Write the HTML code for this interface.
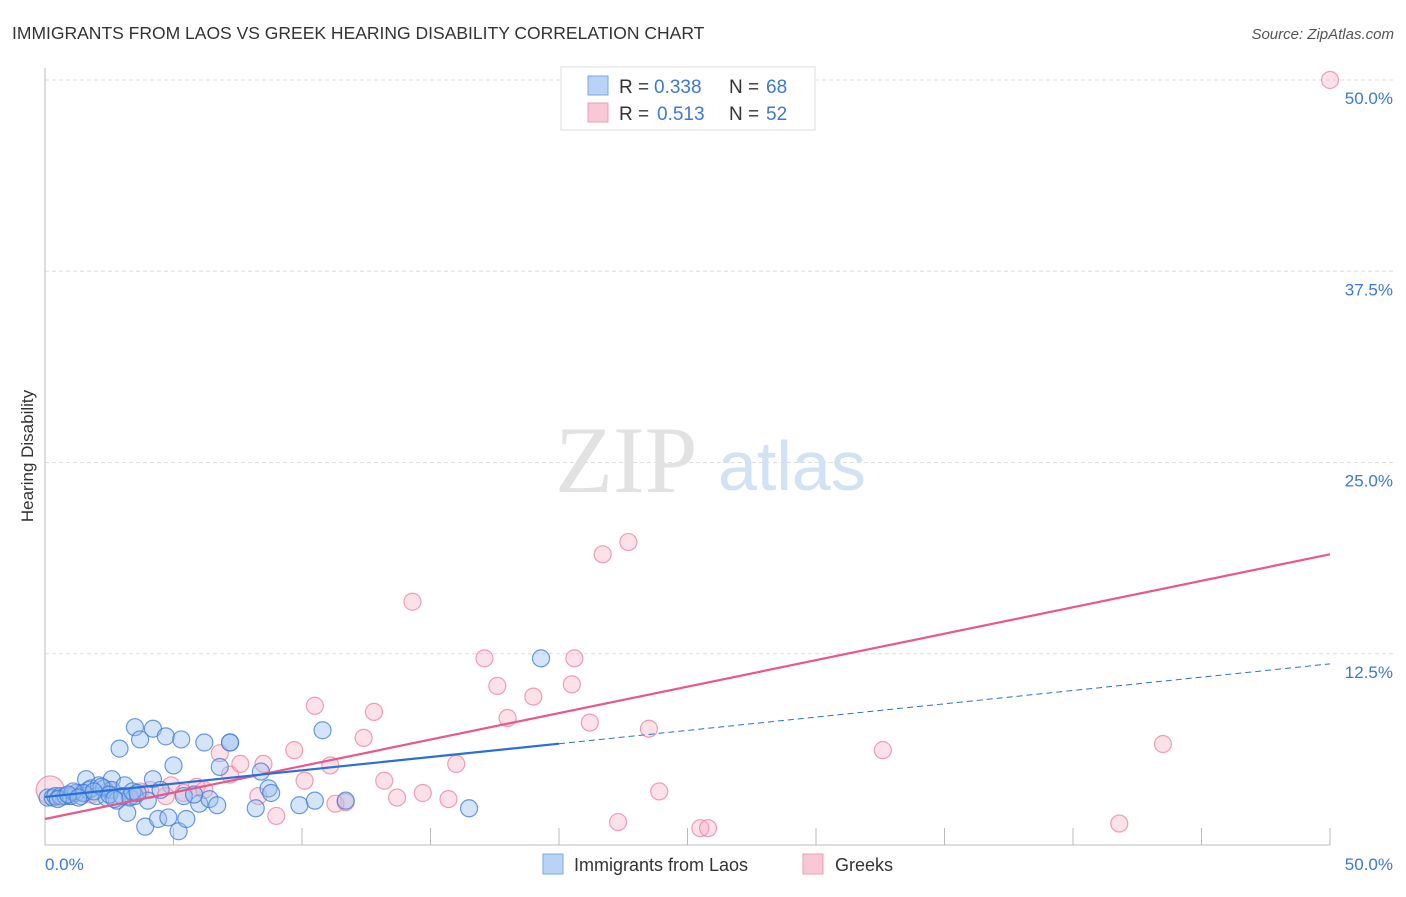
<!DOCTYPE html>
<html><head><meta charset="utf-8"><style>
body{margin:0;background:#fff;font-family:"Liberation Sans",sans-serif;}
svg text{font-family:"Liberation Sans",sans-serif;}
</style></head><body>
<svg width="1406" height="892" viewBox="0 0 1406 892">
<text x="12" y="39" font-size="17.5" fill="#333">IMMIGRANTS FROM LAOS VS GREEK HEARING DISABILITY CORRELATION CHART</text>
<text x="1394" y="39" font-size="15" fill="#555" font-style="italic" text-anchor="end">Source: ZipAtlas.com</text>
<g id="grid"></g>
<line x1="45" y1="68" x2="45" y2="845" stroke="#bbb"/>
<line x1="45" y1="845" x2="1330" y2="845" stroke="#bbb"/>
<text x="555" y="492" font-size="95" fill="#e2e2e2" style="font-family:'Liberation Serif',serif">ZIP</text>
<text x="718" y="490" font-size="70" fill="#d2e2f5">atlas</text>
<text transform="translate(33,456) rotate(-90)" font-size="17" fill="#333" text-anchor="middle">Hearing Disability</text>
<text x="45" y="870" font-size="17" fill="#3b78d8">0.0%</text>
<text x="1393" y="870" font-size="17" fill="#3b78d8" text-anchor="end">50.0%</text>
<g id="pts"></g>
<g id="lines"></g>
<g>
<rect x="561" y="67" width="254" height="63" fill="#fff" stroke="#ddd"/>
<rect x="588" y="76" width="20" height="19" fill="#b8d3f5" stroke="#7aa7e6"/>
<rect x="588" y="103" width="20" height="19" fill="#f9c8d6" stroke="#ee9bb3"/>
<text x="619" y="93" font-size="19" fill="#333">R =</text>
<text x="654" y="93" font-size="19" fill="#3b78d8">0.338</text>
<text x="729" y="93" font-size="19" fill="#333">N =</text>
<text x="766" y="93" font-size="19" fill="#3b78d8">68</text>
<text x="619" y="120" font-size="19" fill="#333">R =</text>
<text x="657" y="120" font-size="19" fill="#3b78d8">0.513</text>
<text x="729" y="120" font-size="19" fill="#333">N =</text>
<text x="766" y="120" font-size="19" fill="#3b78d8">52</text>
</g>
<g>
<rect x="543" y="854" width="20" height="20" fill="#b8d3f5" stroke="#7aa7e6"/>
<text x="574" y="871" font-size="18" fill="#333">Immigrants from Laos</text>
<rect x="803" y="854" width="20" height="20" fill="#f9c8d6" stroke="#ee9bb3"/>
<text x="835" y="871" font-size="18" fill="#333">Greeks</text>
</g>
</svg>
<script>
const yTicks=[12.5,25,37.5,50];
const blueX=[0.1,0.3,0.4,0.6,0.8,1,1.2,1.4,1.6,1.7,1.8,2,2.1,2.3,2.4,2.6,2.6,2.8,2.9,3.1,3.2,3.3,3.5,3.5,3.7,3.9,4,4.2,4.2,4.4,4.7,4.8,5,5.2,5.3,5.4,5.5,6,6.2,6.4,6.7,6.8,7.2,7.2,8.2,8.4,8.7,8.8,9.9,10.5,10.8,11.7,16.5,19.3,1.1,1.5,2.2,2.5,3,3.4,0.5,0.9,1.3,1.9,2.7,3.6,4.5,5.8];
const blueY=[3.1,3.1,3.2,3.2,3.2,3.2,3.4,3.2,4.3,3.6,3.7,3.2,3.9,3.7,3.1,4.3,3.6,2.9,6.3,3.9,2.1,3.1,3.2,7.7,6.9,1.2,2.9,4.3,7.6,1.7,7.1,1.8,5.2,0.9,6.9,3.2,1.7,2.7,6.7,3,2.6,5.1,6.7,6.7,2.4,4.8,3.7,3.4,2.6,2.9,7.5,2.9,2.4,12.2,3.5,3.4,3.8,3.3,3.2,3.5,3.0,3.3,3.1,3.5,3.0,3.4,3.6,3.3];
const pinkX=[0.2,0.6,1,1.8,2.5,3.3,4.1,4.7,4.9,5.4,5.9,6.2,6.8,7.2,7.6,8.3,8.5,9,9.7,10.1,10.5,11.1,11.3,11.7,12.4,12.8,13.2,13.7,14.3,14.7,15.7,16,17.1,17.6,18,19,20.5,20.6,21.2,21.7,22.3,22.7,23.5,23.9,25.5,25.8,32.6,41.8,43.5,50,1.4,3.7];
const pinkY=[3.6,3.1,3.2,3.3,3.6,3.2,3.6,3.2,3.9,3.4,3.8,3.6,6,4.6,5.3,3.2,5.3,1.9,6.2,4.2,9.1,5.2,2.7,2.8,7,8.7,4.2,3.1,15.9,3.4,3,5.3,12.2,10.4,8.3,9.7,10.5,12.2,8,19,1.5,19.8,7.6,3.5,1.1,1.1,6.2,1.4,6.6,50,3.4,3.5];
const ns="http://www.w3.org/2000/svg";
const X=v=>45+v*25.7, Y=v=>845-v*15.3;
const grid=document.getElementById('grid');
yTicks.forEach(t=>{
 const l=document.createElementNS(ns,'line');
 
 
 l.setAttribute('x1',45);l.setAttribute('x2',1395);l.setAttribute('y1',Y(t));l.setAttribute('y2',Y(t));
 l.setAttribute('stroke','#ddd');l.setAttribute('stroke-dasharray','4,3');
 grid.appendChild(l);
 const tx=document.createElementNS(ns,'text');
 
 
 tx.setAttribute('x',1393);tx.setAttribute('y',Y(t)+24);tx.setAttribute('text-anchor','end');
 tx.setAttribute('font-size','17');tx.setAttribute('fill','#3b78d8');tx.textContent=t.toFixed(1)+'%';
 grid.appendChild(tx);
});
for(let i=1;i<=10;i++){
 const l=document.createElementNS(ns,'line');
 
 
 const x=X(i*5);
 l.setAttribute('x1',x);l.setAttribute('x2',x);l.setAttribute('y1',828);l.setAttribute('y2',845);l.setAttribute('stroke','#bbb');
 grid.appendChild(l);
}
const pts=document.getElementById('pts');
function dots(xs,ys,fill,stroke,name){
 xs.forEach((v,i)=>{
  const c=document.createElementNS(ns,'circle');
  
  
  c.setAttribute('cx',X(v));c.setAttribute('cy',Y(ys[i]));c.setAttribute('r',i===0&&name==='greek-point'?14:8.5);
  c.setAttribute('fill',fill);c.setAttribute('stroke',stroke);c.setAttribute('stroke-width','1.2');
  pts.appendChild(c);
 });
}
dots(pinkX,pinkY,'rgba(246,170,192,0.35)','rgba(234,120,155,0.7)','greek-point');
dots(blueX,blueY,'rgba(150,190,240,0.4)','rgba(60,120,216,0.75)','laos-point');
const lines=document.getElementById('lines');
function ln(x1,y1,x2,y2,col,dash,name){
 const l=document.createElementNS(ns,'line');
 
 
 l.setAttribute('x1',X(x1));l.setAttribute('y1',Y(y1));l.setAttribute('x2',X(x2));l.setAttribute('y2',Y(y2));
 l.setAttribute('stroke',col);l.setAttribute('stroke-width',dash?1:2.2);
 if(dash)l.setAttribute('stroke-dasharray','6,4');
 lines.appendChild(l);
}
const bA=3.14,bB=0.174,pA=1.7,pB=0.346;
ln(0,pA,50,pA+pB*50,'#e8588a',false,'greek-trendline');
ln(0,bA,20,bA+bB*20,'#2a6fd6',false,'laos-trendline');
ln(20,bA+bB*20,50,bA+bB*50,'#2a6fd6',true,'laos-trendline-extension');
</script>
</body></html>
